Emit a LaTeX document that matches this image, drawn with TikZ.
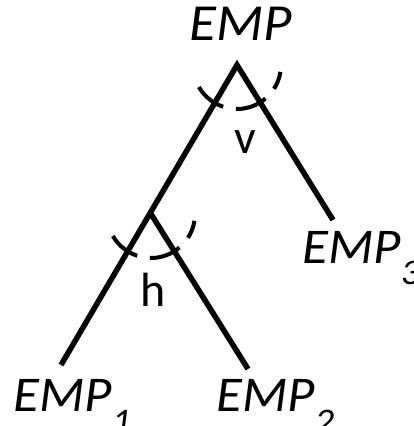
\documentclass[tikz,border=0pt]{standalone}
\usepackage{fontspec}
\setmainfont{Carlito}
\newfontfamily\lblfont[FakeStretch=1.06]{Carlito}
\usetikzlibrary{calc}
\newcommand{\subtxt}[1]{\raisebox{-21pt}{\fontsize{36}{36}\selectfont\itshape #1}}
\tikzset{
  branch/.style={line width=5.5pt, line cap=butt, line join=miter},
  angarc/.style={line width=4pt, dash pattern=on 32pt off 13pt},
  lbl/.style={font=\lblfont\fontsize{50}{50}\selectfont\itshape, inner sep=0pt, anchor=base west},
  oplbl/.style={font=\fontsize{48}{48}\selectfont, inner sep=0pt, anchor=base}
}
\begin{document}
\begin{tikzpicture}[x=1pt,y=1pt]
\useasboundingbox (0,0) rectangle (414,426);
% junctions and leaf ends
\coordinate (A) at (237,361);
\coordinate (H) at (151,212);
\coordinate (L1) at (61,61);
\coordinate (L2) at (248,57);
\coordinate (L3) at (333,206);
% branches
\draw[branch] (L1) -- (A) -- (L3);
\draw[branch] (H) -- (L2);
% dashed angle arcs
\draw[angarc] ($(A)+(210:44)$) arc[start angle=210, end angle=351, radius=44];
\draw[angarc] ($(H)+(210:44)$) arc[start angle=210, end angle=351, radius=44];
% labels
\node[lbl, font=\lblfont\fontsize{52}{52}\selectfont\itshape, anchor=base] (top) at (241,385) {EMP};
\node[oplbl] (v) at (245,272) {v};
\node[oplbl] (h) at (153,119) {h};
\node[lbl] (e1) at (13,14) {EMP\subtxt{1}};
\node[lbl] (e2) at (216,14) {EMP\subtxt{2}};
\node[lbl] (e3) at (302,162) {EMP\subtxt{3}};
\end{tikzpicture}
\end{document}
